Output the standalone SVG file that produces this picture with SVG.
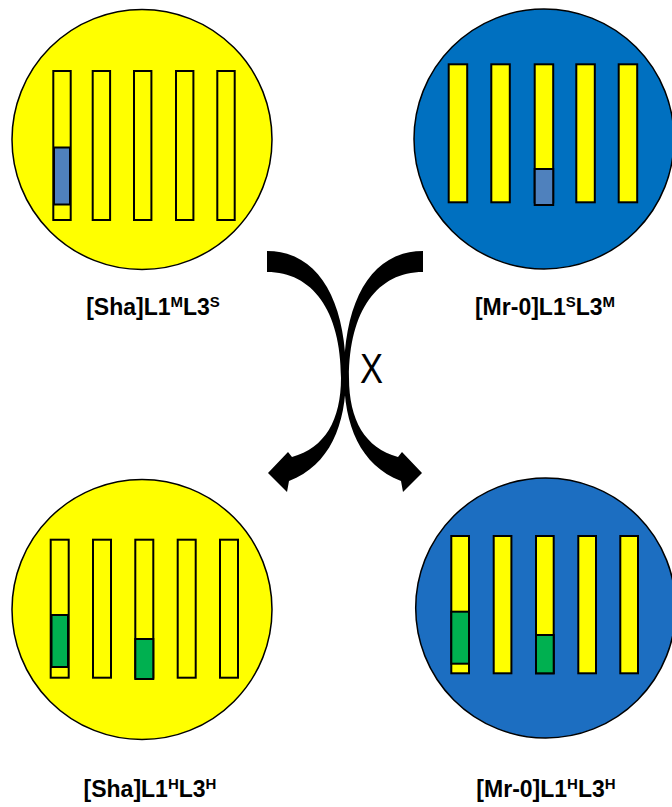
<svg xmlns="http://www.w3.org/2000/svg" width="672" height="807" viewBox="0 0 672 807">
<style>
.c{stroke:#000;stroke-width:1.5}
.bar{fill:#FFFF00;stroke:#000;stroke-width:2}
.blue{fill:#4F81BD;stroke:#000;stroke-width:2}
.green{fill:#00B050;stroke:#000;stroke-width:2}
.lbl{font-family:"Liberation Sans",Arial,sans-serif;font-weight:bold;font-size:23px;fill:#000}
.sup{font-size:15px}
.arrow{fill:#000}
</style>
<defs>
<path id="arr" d="M267,251 C318,251 346,300 346,375 C346,425 330,465 289,481 L287,492 L268,473 L288,452 L292,457 C325,448 341,420 341,378 C341,310 312,272 267,272 Z"/>
</defs>
<rect width="672" height="807" fill="#fff"/>

<g id="sha-parent">
<circle class="c" cx="142" cy="139.5" r="130" fill="#FFFF00"/>
<rect class="bar" x="53.3" y="71" width="17.4" height="149"/>
<rect class="blue" x="54" y="147.5" width="16" height="57"/>
<rect class="bar" x="92.7" y="71" width="17.4" height="149"/>
<rect class="bar" x="134" y="71" width="17.4" height="149"/>
<rect class="bar" x="176" y="71" width="17.4" height="149"/>
<rect class="bar" x="217.3" y="71" width="17.4" height="149"/>
<text class="lbl" x="153" y="315" text-anchor="middle">[Sha]L1<tspan class="sup" dy="-8">M</tspan><tspan dy="8">L3</tspan><tspan class="sup" dy="-8">S</tspan></text>
</g>

<g id="mr0-parent">
<circle class="c" cx="544" cy="139" r="130" fill="#0070C0"/>
<rect class="bar" x="448.7" y="64.3" width="18.5" height="138"/>
<rect class="bar" x="491.3" y="64.3" width="18.5" height="138"/>
<rect class="bar" x="534.7" y="64.3" width="18.5" height="138"/>
<rect class="blue" x="534.7" y="169" width="18.5" height="36"/>
<rect class="bar" x="576.3" y="64.3" width="18.5" height="138"/>
<rect class="bar" x="618.7" y="64.3" width="18.5" height="138"/>
<text class="lbl" x="545" y="315" text-anchor="middle">[Mr-0]L1<tspan class="sup" dy="-8">S</tspan><tspan dy="8">L3</tspan><tspan class="sup" dy="-8">M</tspan></text>
</g>

<g id="sha-hybrid">
<circle class="c" cx="142" cy="609.5" r="130" fill="#FFFF00"/>
<rect class="bar" x="50.7" y="539.7" width="18" height="138"/>
<rect class="green" x="51.5" y="615" width="16.5" height="52"/>
<rect class="bar" x="93" y="539.7" width="18" height="138"/>
<rect class="bar" x="135.3" y="539.7" width="18" height="138"/>
<rect class="green" x="135.3" y="639" width="18" height="40"/>
<rect class="bar" x="177.7" y="539.7" width="18" height="138"/>
<rect class="bar" x="220" y="539.7" width="18" height="138"/>
<text class="lbl" x="150" y="797" text-anchor="middle">[Sha]L1<tspan class="sup" dy="-8">H</tspan><tspan dy="8">L3</tspan><tspan class="sup" dy="-8">H</tspan></text>
</g>

<g id="mr0-hybrid">
<circle class="c" cx="545.7" cy="608" r="130" fill="#1C6EC1"/>
<rect class="bar" x="451.3" y="536" width="17.7" height="137.3"/>
<rect class="green" x="451.3" y="611.7" width="17.7" height="52"/>
<rect class="bar" x="493.7" y="536" width="17.7" height="137.3"/>
<rect class="bar" x="536" y="536" width="17.7" height="137.3"/>
<rect class="green" x="536" y="635" width="17.7" height="38.3"/>
<rect class="bar" x="578.3" y="536" width="17.7" height="137.3"/>
<rect class="bar" x="620.3" y="536" width="17.7" height="137.3"/>
<text class="lbl" x="546" y="797" text-anchor="middle">[Mr-0]L1<tspan class="sup" dy="-8">H</tspan><tspan dy="8">L3</tspan><tspan class="sup" dy="-8">H</tspan></text>
</g>

<g id="connectors">
<use href="#arr" class="arrow"/>
<use href="#arr" class="arrow" transform="translate(690,0) scale(-1,1)"/>
<text x="371.5" y="383" text-anchor="middle" font-family="'Liberation Sans',Arial,sans-serif" font-size="42" textLength="23" lengthAdjust="spacingAndGlyphs" fill="#000">X</text>
</g>
</svg>
